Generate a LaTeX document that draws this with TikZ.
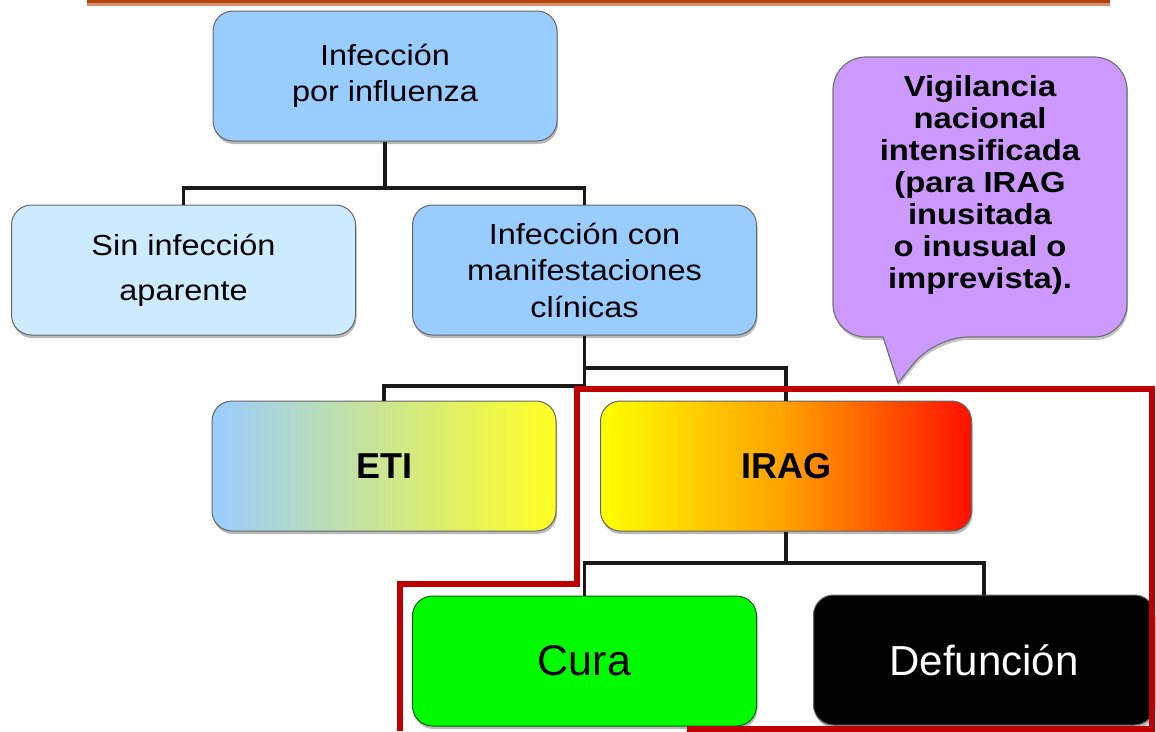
\documentclass[tikz,border=0pt]{standalone}
\usepackage{fontspec}
\setmainfont{Liberation Sans}
\newfontfamily\widefont{Liberation Sans}[FakeStretch=1.12]
\newfontfamily\calloutfont{Liberation Sans}[FakeStretch=1.13]
\usetikzlibrary{shadows}
\definecolor{boxblue}{HTML}{99CCFF}
\definecolor{boxpale}{HTML}{CCEBFF}
\definecolor{etiyellow}{HTML}{FFFF22}
\definecolor{iragyellow}{HTML}{FFFF00}
\definecolor{iragorange}{HTML}{FFA000}
\definecolor{iragred}{HTML}{FF1000}
\definecolor{curagreen}{HTML}{00FA00}
\definecolor{framered}{HTML}{C00000}
\definecolor{calloutpurple}{HTML}{CC99FF}
\definecolor{browndark}{HTML}{B0440C}
\definecolor{brownlight}{HTML}{D89070}
\begin{document}
\begin{tikzpicture}[x=1pt,y=-1pt,
  box/.style={rectangle, rounded corners=20pt, draw=black!60, line width=1pt,
    minimum width=344pt, minimum height=130pt, inner sep=0pt, align=center,
    drop shadow={shadow xshift=1pt, shadow yshift=-3pt, fill=black!55}},
  conn/.style={line width=3.5pt, draw=black!90},
  upper/.style={font=\widefont\fontsize{29}{36}\selectfont},
]
\useasboundingbox (0,0) rectangle (1156,731);
% top rule
\fill[browndark] (87,0) rectangle (1110,3);
\fill[brownlight] (87,3) rectangle (1110,6);

% boxes
\node[box, upper, fill=boxblue] (infl) at (385,76) {Infección\\por influenza};
\node[box, fill=boxpale, font=\widefont\fontsize{29}{45}\selectfont] (sin) at (183.5,270) {Sin infección\\aparente};
\node[box, upper, fill=boxblue, font=\widefont\fontsize{29}{36.5}\selectfont] (clin) at (584.5,270) {Infección con\\manifestaciones\\clínicas};
\node[box, left color=boxblue, right color=etiyellow, font=\bfseries\fontsize{36}{40}\selectfont] (eti) at (384,466) {ETI};
\node[box, minimum width=371pt, left color=iragyellow, right color=iragred, middle color=iragorange, font=\bfseries\fontsize{36}{40}\selectfont] (irag) at (786,466) {IRAG};
\node[box, fill=curagreen, draw=green!40!black, font=\fontsize{43}{46}\selectfont] (cura) at (584.5,661) {Cura};
\node[box, minimum width=341pt, fill=black, text=white, font=\fontsize{42}{46}\selectfont] (def) at (984,660) {Defunción};

% connectors
\draw[conn] (infl.south) -- (infl.south |- 0,188) -| (sin.north);
\draw[conn] (infl.south |- 0,188) -| (clin.north);
\draw[conn] (clin.south) -- (clin.south |- 0,386) -| (eti.north);
\draw[conn] (clin.south |- 0,368) -| (irag.north);
\draw[conn] (irag.south) -- (irag.south |- 0,563) -| (cura.north);
\draw[conn] (irag.south |- 0,563) -| (def.north);

% red frame
\draw[framered, line width=6pt, line join=miter]
  (400,731) -- (400,584) -- (577,584) -- (577,389) -- (1152,389) -- (1152,729) -- (687,729);

% callout
\draw[fill=calloutpurple, draw=black!55, line width=1.2pt,
      drop shadow={shadow xshift=1pt, shadow yshift=-3pt, fill=black!45}]
  (980,57) [rounded corners=33pt] -- (1127,57) -- (1127,337) -- (935,337)
  [sharp corners] -- (898,383) -- (883,337) [rounded corners=33pt] -- (833,337) -- (833,57) -- cycle;
\node[font=\calloutfont\bfseries\fontsize{29}{32}\selectfont, align=center, inner sep=0pt]
  (callouttext) at (980,185) {Vigilancia\\nacional\\intensificada\\(para IRAG\\inusitada\\o inusual o\\imprevista).};
\end{tikzpicture}
\end{document}
